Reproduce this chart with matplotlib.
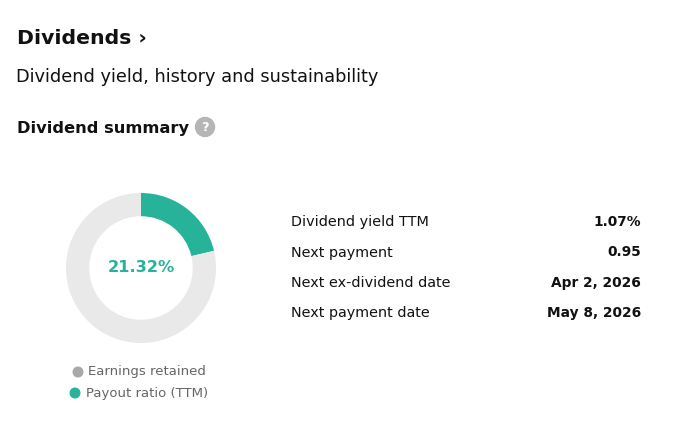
import matplotlib
matplotlib.use('Agg')
import matplotlib.pyplot as plt
from matplotlib.patches import Circle

payout = 21.32
retained = 100 - payout
legend_labels = ['Earnings retained', 'Payout ratio (TTM)']
row_labels = ['Dividend yield TTM', 'Next payment', 'Next ex-dividend date', 'Next payment date']
row_values = ['1.07%', '0.95', 'Apr 2, 2026', 'May 8, 2026']

teal = '#26b39a'
ring = '#e9e9e9'
dot_gray = '#a8a8a8'

plt.rcParams['font.family'] = ['DejaVu Sans']

W, H = 687, 428
fig = plt.figure(figsize=(W / 100, H / 100), dpi=100)
bg = fig.add_axes([0, 0, 1, 1])
bg.set_xlim(0, W)
bg.set_ylim(H, 0)
bg.axis('off')

def px(s):
    # pixel font size -> points at 100 dpi
    return s * 0.72

bg.text(17, 38, 'Dividends ›', fontsize=px(20.4), fontweight='bold', color='#111111', va='center')
bg.text(16, 77, 'Dividend yield, history and sustainability', fontsize=px(17.8), color='#111111', va='center')
bg.text(17, 128, 'Dividend summary', fontsize=px(16.3), fontweight='bold', color='#111111', va='center')
bg.add_patch(Circle((205, 127), 9.5, color='#b5b5b5'))
bg.text(205, 127.5, '?', fontsize=px(13), fontweight='bold', color='white', ha='center', va='center')

# donut
cx, cy, r = 141, 268, 75
pax = fig.add_axes([(cx - r) / W, (H - cy - r) / H, 2 * r / W, 2 * r / H])
pax.pie([payout, retained], colors=[teal, ring], startangle=90, counterclock=False,
        radius=1, wedgeprops=dict(width=0.31, linewidth=0))
pax.set_xlim(-1, 1)
pax.set_ylim(-1, 1)
pax.axis('off')
bg.text(cx, cy, f'{payout:.2f}%', fontsize=px(16.3), fontweight='bold', color=teal, ha='center', va='center')

# legend
leg_x = [78, 75]
for i, (lab, c) in enumerate(zip(legend_labels, [dot_gray, teal])):
    y = 372 + i * 21
    bg.add_patch(Circle((leg_x[i], y), 4.8, color=c))
    bg.text(leg_x[i] + 10.5, y, lab, fontsize=px(13.3), color='#666666', va='center')

# summary table
for i, (lab, val) in enumerate(zip(row_labels, row_values)):
    y = 222 + i * 30.5
    bg.text(291, y, lab, fontsize=px(14.4), color='#111111', va='center')
    bg.text(641, y, val, fontsize=px(13.8), fontweight='bold', color='#111111', va='center', ha='right')

fig.savefig('out.png', dpi=100)
